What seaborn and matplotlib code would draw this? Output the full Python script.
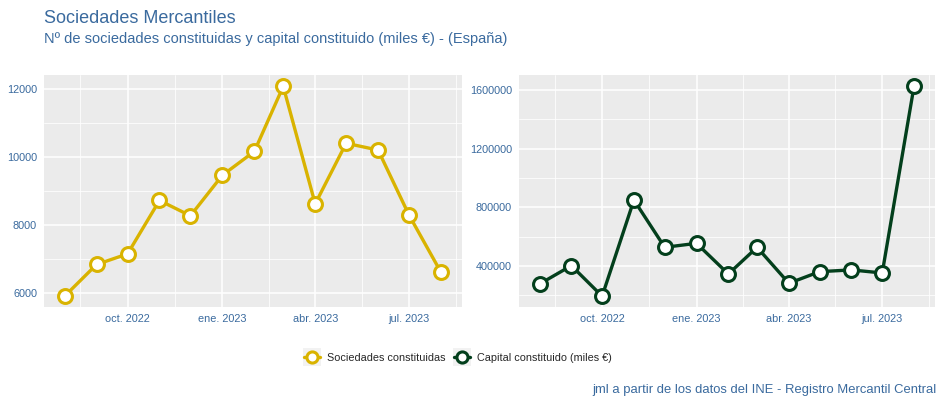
import pandas as pd
import numpy as np
import matplotlib
matplotlib.use("Agg")
import matplotlib.pyplot as plt
from matplotlib.lines import Line2D
from matplotlib.patches import Rectangle
from matplotlib.ticker import MultipleLocator, FuncFormatter
import seaborn as sns

# data (monthly)
months = pd.date_range("2022-08-01", "2023-08-01", freq="MS")
sociedades = [5920, 6850, 7160, 8730, 8280, 9470, 10170, 12080, 8630, 10410, 10210, 8300, 6620]
capital = [277000, 402000, 194000, 849000, 527000, 554000, 345000, 527000, 282000,
           361000, 373000, 352000, 1625000]
tick_dates = pd.to_datetime(["2022-10-01", "2023-01-01", "2023-04-01", "2023-07-01"])
tick_labels = ["oct. 2022", "ene. 2023", "abr. 2023", "jul. 2023"]
minor_dates = pd.to_datetime(["2022-08-16", "2022-11-16", "2023-02-15", "2023-05-16", "2023-08-16"])

df = pd.DataFrame({"fecha": months, "sociedades": sociedades, "capital": capital})

sns.set_style("white")
plt.rcParams["font.family"] = ["Liberation Sans", "DejaVu Sans"]

yellow = "#D9B300"
green = "#033F1C"
blue = "#3A6A9E"

fig = plt.figure(figsize=(9.44, 4.04), dpi=100)
ax1 = fig.add_axes([0.0466, 0.240, 0.4424, 0.574])
ax2 = fig.add_axes([0.5498, 0.240, 0.4402, 0.574])


def style_panel(ax, major, minor):
    ax.set_facecolor("#EBEBEB")
    for s in ax.spines.values():
        s.set_visible(False)
    ax.set_xticks(tick_dates)
    ax.set_xticklabels(tick_labels)
    ax.set_xticks(minor_dates, minor=True)
    ax.yaxis.set_major_locator(MultipleLocator(major))
    ax.yaxis.set_minor_locator(MultipleLocator(minor))
    ax.yaxis.set_major_formatter(FuncFormatter(lambda v, p: f"{v:.0f}"))
    ax.grid(which="major", color="white", linewidth=1.1)
    ax.grid(which="minor", color="white", linewidth=0.55)
    ax.set_axisbelow(True)
    ax.tick_params(which="major", length=3, width=0.8, color="#333333",
                   labelsize=7.8, labelcolor=blue, pad=2)
    ax.tick_params(which="minor", length=0)
    ax.set_xlabel("")
    ax.set_ylabel("")
    ax.set_xlim(pd.Timestamp("2022-07-12"), pd.Timestamp("2023-08-21"))


sns.lineplot(data=df, x="fecha", y="sociedades", ax=ax1, color=yellow, linewidth=2.4,
             marker="o", markersize=10, markerfacecolor="white",
             markeredgecolor=yellow, markeredgewidth=2.2)
style_panel(ax1, 2000, 1000)
ax1.set_ylim(5600, 12410)

sns.lineplot(data=df, x="fecha", y="capital", ax=ax2, color=green, linewidth=2.4,
             marker="o", markersize=10, markerfacecolor="white",
             markeredgecolor=green, markeredgewidth=2.2)
style_panel(ax2, 400000, 200000)
ax2.set_ylim(120000, 1700000)

fig.text(0.0466, 0.955, "Sociedades Mercantiles", fontsize=13, color=blue, va="center")
fig.text(0.0466, 0.903, "Nº de sociedades constituidas y capital constituido (miles €) - (España)",
         fontsize=10.5, color=blue, va="center")
fig.text(0.992, 0.035, "jml a partir de los datos del INE - Registro Mercantil Central",
         fontsize=9.4, color=blue, ha="right", va="center")

handles = [
    Line2D([], [], color=yellow, linewidth=2.4, marker="o", markersize=8,
           markerfacecolor="white", markeredgecolor=yellow, markeredgewidth=2.2),
    Line2D([], [], color=green, linewidth=2.4, marker="o", markersize=8,
           markerfacecolor="white", markeredgecolor=green, markeredgewidth=2.2),
]
leg = fig.legend(handles, ["Sociedades constituidas", "Capital constituido (miles €)"],
                 loc="center", bbox_to_anchor=(0.485, 0.114), ncol=2, frameon=False,
                 fontsize=7.8, handlelength=1.5, columnspacing=0.8, handletextpad=0.6)

# grey key backgrounds like ggplot legend keys
fig.canvas.draw()
renderer = fig.canvas.get_renderer()
for h in leg.legend_handles:
    bb = h.get_window_extent(renderer)
    cx = (bb.x0 + bb.x1) / 2
    cy = (bb.y0 + bb.y1) / 2
    size = 18
    fig.patches.append(Rectangle(((cx - size / 2) / 944, (cy - size / 2) / 404),
                                 size / 944, size / 404, transform=fig.transFigure,
                                 facecolor="#F2F2F2", edgecolor="none", zorder=0))

fig.savefig("out.png", dpi=100)
